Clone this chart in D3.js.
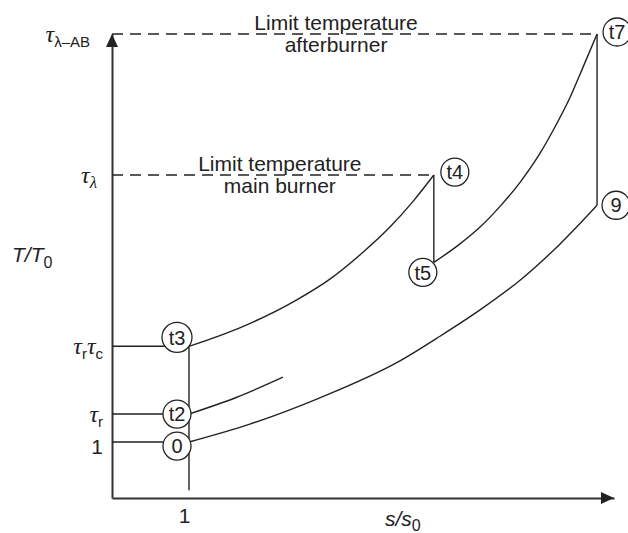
<!DOCTYPE html>
<html>
<head>
<meta charset="utf-8">
<script src="https://cdn.jsdelivr.net/npm/d3@7"></script>
<style>
  body { margin: 0; background: #fff; }
  text { font-family: "Liberation Sans", Arial, sans-serif; fill: #222; }
</style>
</head>
<body>
<div id="chart"></div>
<script>
// values (s/s0 and T/T0 in chart units)
const tauAB = 8.29, tauL = 5.77, tauRC = 2.71, tauR = 1.5;

const yTicks = [1, tauR, tauRC, tauL, tauAB];
// each label: list of [text, isSub]
const yTickLabels = [
  [["1", false]],
  [["τ", false], ["r", true]],
  [["τ", false], ["r", true], ["τ", false], ["c", true]],
  [["τ", false], ["λ", true]],
  [["τ", false], ["λ–AB", true]]
];
const xTicks = [1];

// isobars / process lines, [s, T]
const line0to9 = [[1.0, 1.0], [1.79, 1.32], [2.70, 1.79], [3.74, 2.45], [4.26, 2.89], [4.78, 3.36], [5.30, 3.89], [5.82, 4.54], [6.30, 5.23]];
const lineT2 = [[1.0, 1.5], [1.62, 1.80], [2.22, 2.16]];
const line3to4 = [[1.0, 2.71], [1.66, 3.04], [2.40, 3.54], [2.83, 3.91], [3.26, 4.39], [3.61, 4.84], [3.91, 5.30], [4.18, 5.77]];
const line5to7 = [[4.18, 4.21], [4.52, 4.54], [4.78, 4.84], [5.04, 5.21], [5.30, 5.64], [5.56, 6.16], [5.73, 6.57], [5.95, 7.16], [6.14, 7.77], [6.30, 8.29]];
const line4to5 = [[4.18, 5.77], [4.18, 4.21]];
const line7to9 = [[6.30, 8.29], [6.30, 5.23]];
const lineS1 = [[1.0, 2.71], [1.0, 0.14]];

// state points
const stateNames = ["0", "t2", "t3", "t4", "t5", "t7", "9"];
const stateS = [1, 1, 1, 4.18, 4.18, 6.30, 6.30];
const stateT = [1, tauR, tauRC, tauL, 4.21, tauAB, 5.23];

const width = 628, height = 533;

const svg = d3.select("#chart")
  .append("svg")
  .attr("width", width)
  .attr("height", height);

const x = d3.scaleLinear().domain([0, 6.52]).range([112, 614]);
const y = d3.scaleLinear().domain([0, tauAB]).range([498, 34]);

// axes
const xAxis = svg.append("g")
  .attr("transform", `translate(0,${y(0)})`)
  .call(d3.axisBottom(x).tickValues(xTicks).tickSize(0).tickSizeOuter(0).tickFormat(d3.format("d")));
const yAxis = svg.append("g")
  .attr("transform", `translate(${x(0)},0)`)
  .call(d3.axisLeft(y).tickValues(yTicks).tickSize(0).tickSizeOuter(0));

[xAxis, yAxis].forEach(g => {
  g.select(".domain").attr("stroke", "#333").attr("stroke-width", 2);
  g.selectAll(".tick text")
    .style("font-family", "'Liberation Sans', Arial, sans-serif")
    .style("font-size", "21px")
    .attr("fill", "#222");
});
xAxis.selectAll(".tick text").attr("dy", "1.05em").attr("dx", -5);

// right edge of each label, measured from the axis
const labelPad = [-9, -9, -9, -15, -22];
yAxis.selectAll(".tick text")
  .attr("x", (d, i) => labelPad[i])
  .attr("dy", (d, i) => i === 0 ? 11 : 7)
  .each(function (d, i) {
    const t = d3.select(this).text("");
    yTickLabels[i].forEach(([str, sub], j) => {
      const prevSub = j > 0 && yTickLabels[i][j - 1][1];
      const ts = t.append("tspan").text(str);
      if (sub) {
        ts.attr("dy", 5).style("font-size", "15px");
      } else if (prevSub) {
        ts.attr("dy", -5);
      }
      if (str === "τ" || str === "λ") {
        ts.style("font-family", "'Liberation Serif', serif").style("font-style", "italic");
        if (str === "τ") ts.style("font-size", "24px");
        else ts.style("font-size", "17px");
      }
    });
  });

// arrowheads
svg.append("path")
  .attr("d", `M${x(0)},${y(tauAB)} l-6,13 l12,0 z`)
  .attr("fill", "#222");
svg.append("path")
  .attr("d", `M${x(6.52)},${y(0)} l-13,-6 l0,12 z`)
  .attr("fill", "#222");

// axis titles
const yTitle = svg.append("text")
  .attr("x", 12).attr("y", 262)
  .style("font-size", "21px").style("font-style", "italic");
yTitle.append("tspan").text("T/T");
yTitle.append("tspan").text("0").attr("dy", 6).style("font-size", "16px").style("font-style", "normal");

const xTitle = svg.append("text")
  .attr("x", 385).attr("y", 526)
  .style("font-size", "21px").style("font-style", "italic");
xTitle.append("tspan").text("s/s");
xTitle.append("tspan").text("0").attr("dy", 5).style("font-size", "16px").style("font-style", "normal");

// reference lines
const refSolid = [1, tauR, tauRC];
svg.selectAll(".ref")
  .data(refSolid)
  .join("line")
  .attr("x1", x(0)).attr("x2", x(0.7))
  .attr("y1", d => y(d)).attr("y2", d => y(d))
  .attr("stroke", "#222").attr("stroke-width", 1.4);

const refDashed = [[tauL, 4.18], [tauAB, 6.30]];
svg.selectAll(".dash")
  .data(refDashed)
  .join("line")
  .attr("x1", x(0)).attr("x2", d => x(d[1]))
  .attr("y1", d => y(d[0])).attr("y2", d => y(d[0]))
  .attr("stroke", "#222").attr("stroke-width", 1.4)
  .attr("stroke-dasharray", "11,7");

// process lines
const smooth = d3.line().x(d => x(d[0])).y(d => y(d[1])).curve(d3.curveMonotoneX);
const straight = d3.line().x(d => x(d[0])).y(d => y(d[1]));

[line0to9, lineT2, line3to4, line5to7].forEach(p => {
  svg.append("path").datum(p)
    .attr("fill", "none").attr("stroke", "#222").attr("stroke-width", 1.4)
    .attr("d", smooth);
});
[line4to5, line7to9, lineS1].forEach(p => {
  svg.append("path").datum(p)
    .attr("fill", "none").attr("stroke", "#222").attr("stroke-width", 1.4)
    .attr("d", straight);
});

// limit temperature annotations
const note = (lines, sx, tv) => {
  const t = svg.append("text")
    .attr("text-anchor", "middle")
    .style("font-size", "21px");
  lines.forEach((l, i) => {
    t.append("tspan").attr("x", x(sx)).attr("y", y(tv) - 4 + i * 22).text(l);
  });
};
note(["Limit temperature", "afterburner"], 2.91, tauAB);
note(["Limit temperature", "main burner"], 2.18, tauL);

// state circles
const offsets = { "0": [-12, 4], "t2": [-12, 0], "t3": [-12, -9], "t4": [21, -3], "t5": [-11, 10], "t7": [20, -2], "9": [19, 0] };
const states = svg.selectAll(".state")
  .data(stateNames)
  .join("g")
  .attr("transform", (d, i) => `translate(${x(stateS[i]) + offsets[d][0]},${y(stateT[i]) + offsets[d][1]})`);
states.append("circle")
  .attr("r", d => d === "t3" ? 15 : 14)
  .attr("fill", "#fff").attr("stroke", "#222").attr("stroke-width", 1.3);
states.append("text")
  .attr("text-anchor", "middle").attr("dy", "0.36em")
  .style("font-size", "20px")
  .text(d => d);
</script>
</body>
</html>
